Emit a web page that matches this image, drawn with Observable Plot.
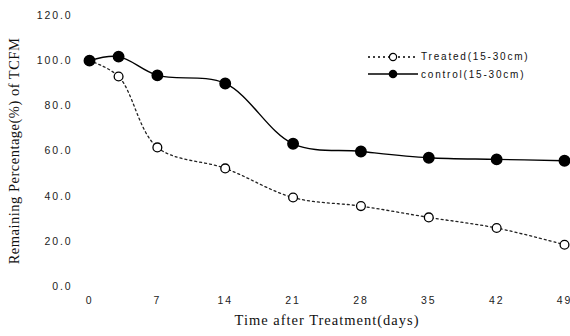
<!DOCTYPE html>
<html><head><meta charset="utf-8">
<script src="https://cdn.jsdelivr.net/npm/d3@7"></script>
<script src="https://cdn.jsdelivr.net/npm/@observablehq/plot@0.6"></script>
<style>
body{margin:0;background:#fff}
#wrap{position:relative;width:570px;height:336px}
.chart g[aria-label="y-axis tick label"] text,.chart g[aria-label="x-axis tick label"] text{letter-spacing:1.9px}
.chart .xlab text{letter-spacing:1px}
.chart .ylab text{letter-spacing:0.5px}
.leg{position:absolute;left:368px;height:14px;font:10px "Liberation Sans",sans-serif;letter-spacing:1.8px;display:flex;align-items:center;color:#111;white-space:nowrap}
.leg svg{margin-right:3px}
</style></head><body><div id="wrap"></div>
<script>
const days = [0, 3, 7, 14, 21, 28, 35, 42, 49];
const treated = [100, 93.0, 61.6, 52.3, 39.4, 35.6, 30.6, 25.9, 18.5];
const control = [100, 101.8, 93.5, 89.9, 63.2, 59.8, 57.0, 56.3, 55.7];
const seriesNames = ["Treated(15-30cm)", "control(15-30cm)"];
const xTicks = [0, 7, 14, 21, 28, 35, 42, 49];
const yTicks = [0, 20, 40, 60, 80, 100, 120];
const xLabel = "Time after Treatment(days)";
const yLabel = "Remaining Percentage(%) of TCFM";

const chart = Plot.plot({
  className: "chart",
  width: 570, height: 336,
  marginTop: 15, marginBottom: 50, marginLeft: 89, marginRight: 6,
  style: {background: "#fff", color: "#222", fontFamily: "Liberation Sans", fontSize: "10px"},
  x: {domain: [0, 49]},
  y: {domain: [0, 120]},
  marks: [
    Plot.axisY(yTicks, {tickSize: 0, tickPadding: 17, tickFormat: d3.format(".1f"), label: null, fontSize: 10.5}),
    Plot.axisX(xTicks, {tickSize: 0, tickPadding: 10, label: null, fontSize: 10.5}),
    Plot.text([yLabel], {className: "ylab", frameAnchor: "left", textAnchor: "middle", dx: -75, rotate: -90, fontFamily: "Liberation Serif", fontSize: 14.5, fill: "#111"}),
    Plot.text([xLabel], {className: "xlab", frameAnchor: "bottom", textAnchor: "middle", dy: 38, fontFamily: "Liberation Serif", fontSize: 14.5, fill: "#111"}),
    Plot.line(days, {x: days, y: treated, curve: "catmull-rom", stroke: "#222", strokeWidth: 1.3, strokeDasharray: "2,3"}),
    Plot.line(days, {x: days, y: control, curve: "catmull-rom", stroke: "#000", strokeWidth: 1.4}),
    Plot.dot(days, {x: days, y: treated, r: 4.4, fill: "#fff", stroke: "#000", strokeWidth: 1.3}),
    Plot.dot(days, {x: days, y: control, r: 5.2, fill: "#000", stroke: "#000"})
  ]
});
const wrap = document.getElementById("wrap");
wrap.appendChild(chart);

function legendItem(name, top, filled) {
  const d = document.createElement("div");
  d.className = "leg";
  d.style.top = (top - 7) + "px";
  const dash = filled ? "" : 'stroke-dasharray="2,3"';
  const circ = filled
    ? '<circle cx="25" cy="7" r="4.3" fill="#000"/>'
    : '<circle cx="25" cy="7" r="3.6" fill="#fff" stroke="#000" stroke-width="1.2"/>';
  d.innerHTML = `<svg width="50" height="14"><line x1="0" x2="50" y1="7" y2="7" stroke="#000" stroke-width="1.3" ${dash}/>${circ}</svg><span>${name}</span>`;
  wrap.appendChild(d);
}
legendItem(seriesNames[0], 56.5, false);
legendItem(seriesNames[1], 74, true);
</script></body></html>
